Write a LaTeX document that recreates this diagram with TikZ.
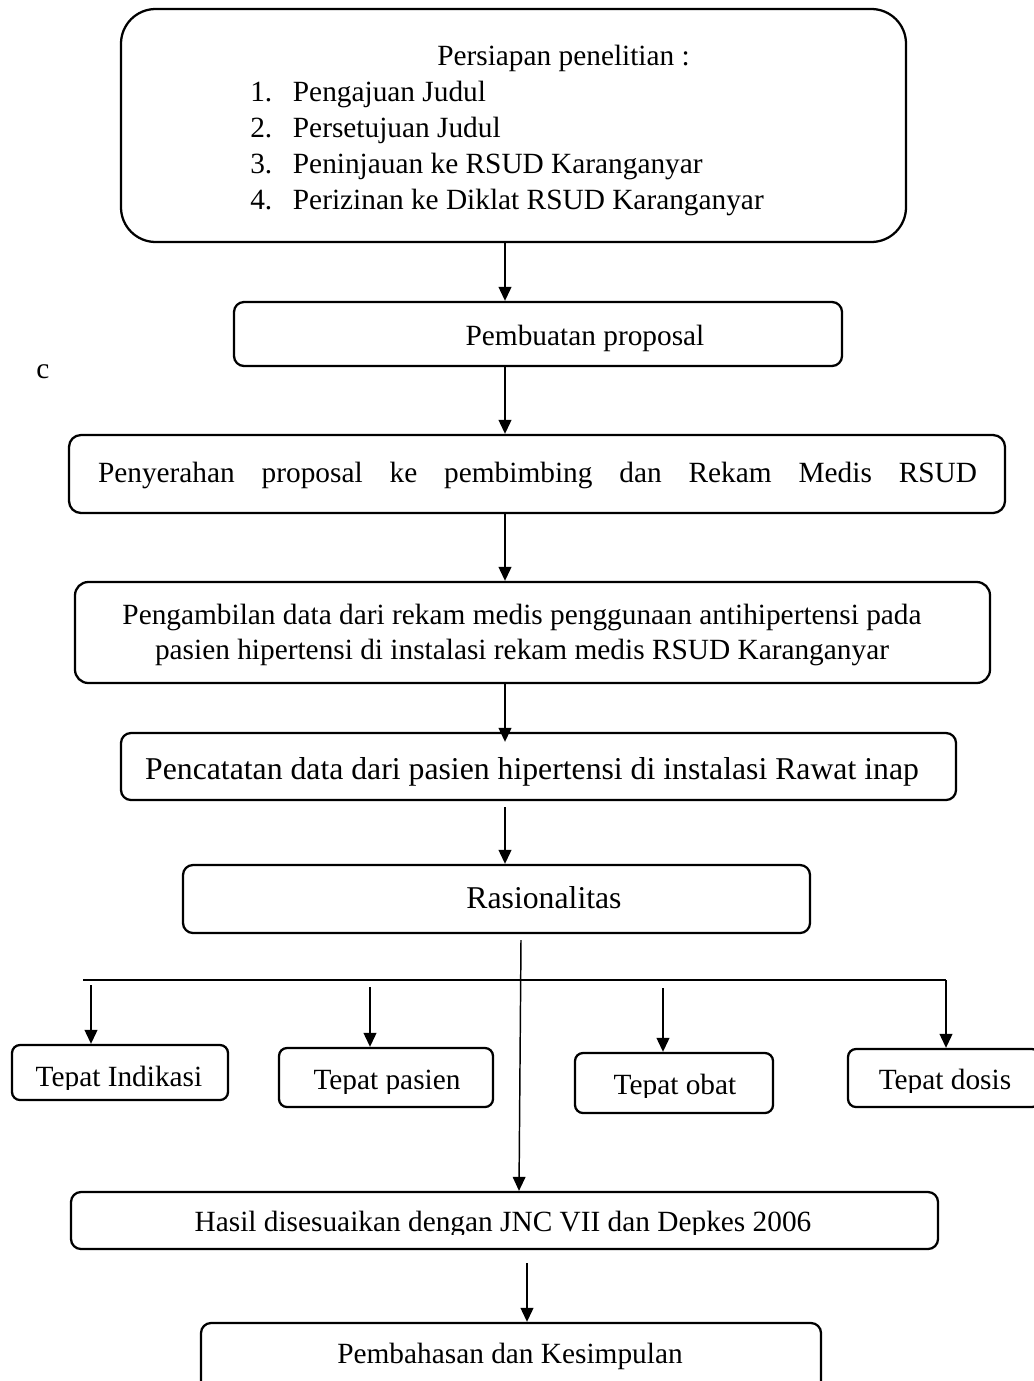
\documentclass[tikz,border=0pt]{standalone}
\usepackage{fontspec}
\setmainfont{Liberation Serif}
\usetikzlibrary{arrows.meta}
\begin{document}
\begin{tikzpicture}[x=0.75pt,y=-0.75pt,
  box/.style={draw, line width=1.7pt, rectangle, inner sep=0pt, rounded corners=7.5pt},
  arr/.style={line width=1.5pt, -{Triangle[length=10.5pt,width=9.5pt]}},
  thinarr/.style={line width=1.1pt, -{Triangle[length=10.5pt,width=9.5pt]}},
  hline/.style={line width=1pt},
  txt/.style={inner sep=0pt, anchor=base, font=\fontsize{22}{27}\selectfont},
  bigtxt/.style={inner sep=0pt, anchor=base, font=\fontsize{23.8}{28}\selectfont},
]
\path[use as bounding box, clip] (0,0) rectangle (1034,1381);
\fill[white] (0,0) rectangle (1034,1381);

% boxes
\node[box, rounded corners=26pt, minimum width=785*0.75pt, minimum height=233*0.75pt] (top) at (513.5,125.5) {};
\node[box, minimum width=608*0.75pt, minimum height=64*0.75pt] (pemb) at (538,334) {};
\node[box, rounded corners=9pt, minimum width=936*0.75pt, minimum height=78*0.75pt] (peny) at (537,474) {};
\node[box, rounded corners=10pt, minimum width=915*0.75pt, minimum height=101*0.75pt] (peng) at (532.5,632.5) {};
\node[box, minimum width=835*0.75pt, minimum height=67*0.75pt] (penc) at (538.5,766.5) {};
\node[box, minimum width=627*0.75pt, minimum height=68*0.75pt] (ras) at (496.5,899) {};
\node[box, rounded corners=6pt, minimum width=216*0.75pt, minimum height=55*0.75pt] (ti) at (120,1072.5) {};
\node[box, rounded corners=6pt, minimum width=214*0.75pt, minimum height=59*0.75pt] (tp) at (386,1077.5) {};
\node[box, rounded corners=6pt, minimum width=198*0.75pt, minimum height=60*0.75pt] (to) at (674,1083) {};
\node[box, rounded corners=6pt, minimum width=192*0.75pt, minimum height=58*0.75pt] (td) at (944,1078) {};
\node[box, minimum width=867*0.75pt, minimum height=57*0.75pt] (hasil) at (504.5,1220.5) {};
\node[box, minimum width=620*0.75pt, minimum height=72*0.75pt] (pmb) at (511,1359) {};

% texts
\node[txt, anchor=base west] (t0) at (437,65) {Persiapan penelitian :};
\node[txt, anchor=north west, align=left] (t1) at (250,76) {%
  \begin{tabular}{@{}l@{\hspace{15.5pt}}l@{}}
  1. & Pengajuan Judul\\
  2. & Persetujuan Judul\\
  3. & Peninjauan ke RSUD Karanganyar\\
  4. & Perizinan ke Diklat RSUD Karanganyar
  \end{tabular}};
\node[txt] (t2) at (585,345) {Pembuatan proposal};
\node[txt] (tc) at (43,378) {c};
\node[txt] (t3) at (537.5,482) {\makebox[659.25pt][s]{Penyerahan proposal ke pembimbing dan Rekam Medis RSUD}};
\node[txt, anchor=north, align=center, font=\fontsize{22}{26.25}\selectfont] (t4) at (522,604) {Pengambilan data dari rekam medis penggunaan antihipertensi pada\\pasien hipertensi di instalasi rekam medis RSUD Karanganyar};
\node[bigtxt] (t5) at (532,779) {Pencatatan data dari pasien hipertensi di instalasi Rawat inap};
\node[bigtxt] (t6) at (544,908) {Rasionalitas};
\begin{scope}
  \clip (0,0) rectangle (1034,1089);
  \node[txt] (t7) at (119,1086) {Tepat Indikasi};
\end{scope}
\begin{scope}
  \clip (0,0) rectangle (1034,1093);
  \node[txt] (t8) at (387,1089) {Tepat pasien};
\end{scope}
\begin{scope}
  \clip (0,0) rectangle (1034,1097);
  \node[txt] (t9) at (675,1094) {Tepat obat};
\end{scope}
\begin{scope}
  \clip (0,0) rectangle (1034,1092);
  \node[txt] (t10) at (945,1089) {Tepat dosis};
\end{scope}
\begin{scope}
  \clip (0,0) rectangle (1034,1234);
  \node[txt] (t11) at (503,1231) {Hasil disesuaikan dengan JNC VII dan Depkes 2006};
\end{scope}
\node[txt] (t12) at (510,1363) {Pembahasan dan Kesimpulan};

% column coordinates
\coordinate (c1) at (505,0);
\coordinate (vs) at (521,940);
\coordinate (ve) at (519,0);
\coordinate (hl) at (83,980);
\coordinate (hr) at (946,980);
\coordinate (a1) at (91,985);
\coordinate (a2) at (370,987);
\coordinate (a3) at (663,988);
\coordinate (hb) at (527,1263);

% connectors
\draw[arr] (top.south -| c1) -- (pemb.north -| c1);
\draw[arr] (pemb.south -| c1) -- (peny.north -| c1);
\draw[arr] (peny.south -| c1) -- (peng.north -| c1);
\draw[arr, shorten >=-7.5pt] (peng.south -| c1) -- (penc.north -| c1);
\draw[arr] ([yshift=-4.5pt]penc.south -| c1) -- (ras.north -| c1);
\draw[thinarr] (vs) -- (hasil.north -| ve);
\draw[hline] (hl) -- (hr);
\draw[arr] (hr) -- (td.north -| hr);
\draw[arr] (a1) -- (ti.north -| a1);
\draw[arr] (a2) -- (tp.north -| a2);
\draw[arr] (a3) -- (to.north -| a3);
\draw[arr] (hb) -- (pmb.north -| hb);
\end{tikzpicture}
\end{document}
